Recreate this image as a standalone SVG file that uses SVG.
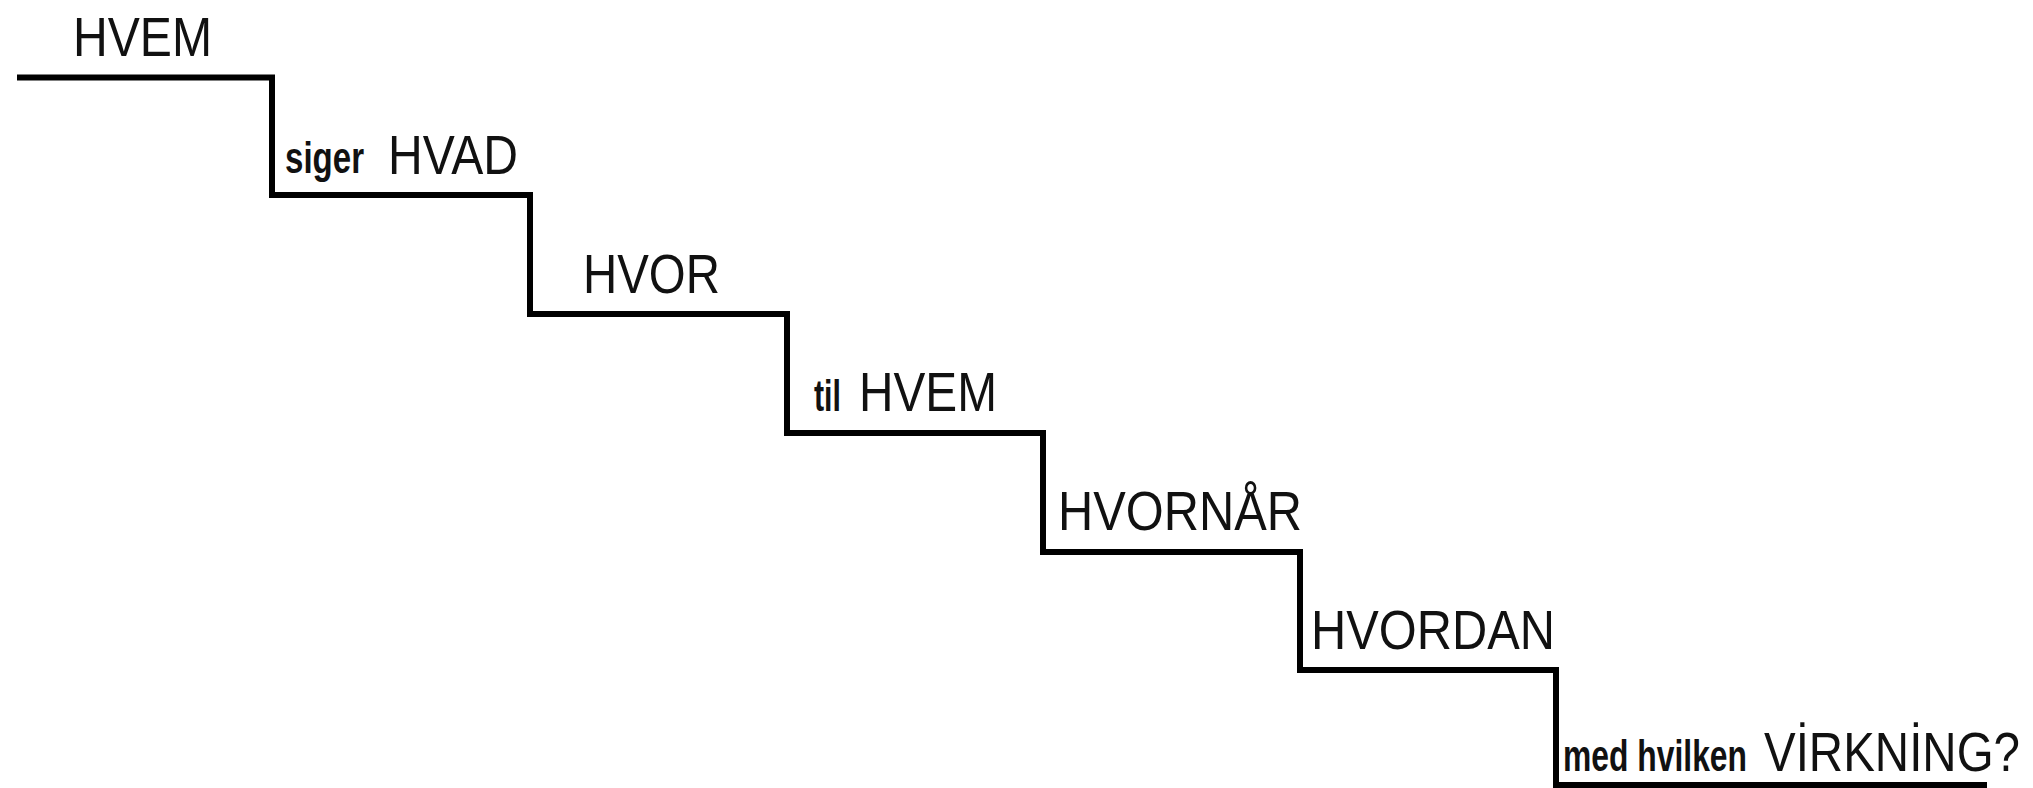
<svg xmlns="http://www.w3.org/2000/svg" width="2033" height="788" viewBox="0 0 2033 788">
<style>
.big{font-family:"Liberation Sans",Arial,sans-serif;font-size:56px;fill:#111}
.small{font-family:"Liberation Sans",Arial,sans-serif;font-weight:bold;font-size:45px;fill:#111}
.stair{fill:none;stroke:#000;stroke-width:6;stroke-linejoin:miter}
</style>
<rect width="2033" height="788" fill="#fff"/>
<g id="connectors">
<path class="stair" d="M17,77.5 H272 V195 H530 V314 H787 V433 H1043 V552 H1300 V670 H1556 V785 H1987"/>
</g>
<g id="step1"><text class="big" x="73" y="56" textLength="139" lengthAdjust="spacingAndGlyphs">HVEM</text></g>
<g id="step2"><text class="small" x="285" y="173" textLength="79" lengthAdjust="spacingAndGlyphs">siger</text><text class="big" x="388" y="174" font-size="52" textLength="130" lengthAdjust="spacingAndGlyphs">HVAD</text></g>
<g id="step3"><text class="big" x="583" y="293" textLength="137" lengthAdjust="spacingAndGlyphs">HVOR</text></g>
<g id="step4"><text class="small" x="814" y="411" textLength="27" lengthAdjust="spacingAndGlyphs">til</text><text class="big" x="859" y="411" font-size="55" textLength="138" lengthAdjust="spacingAndGlyphs">HVEM</text></g>
<g id="step5"><text class="big" x="1058" y="530" textLength="244" lengthAdjust="spacingAndGlyphs">HVORNÅR</text></g>
<g id="step6"><text class="big" x="1311" y="649" textLength="244" lengthAdjust="spacingAndGlyphs">HVORDAN</text></g>
<g id="step7"><text class="small" x="1563" y="771" font-size="43" textLength="184" lengthAdjust="spacingAndGlyphs">med hvilken</text><text class="big" x="1764" y="771" font-size="54" textLength="256" lengthAdjust="spacingAndGlyphs">VİRKNİNG?</text></g>
</svg>
